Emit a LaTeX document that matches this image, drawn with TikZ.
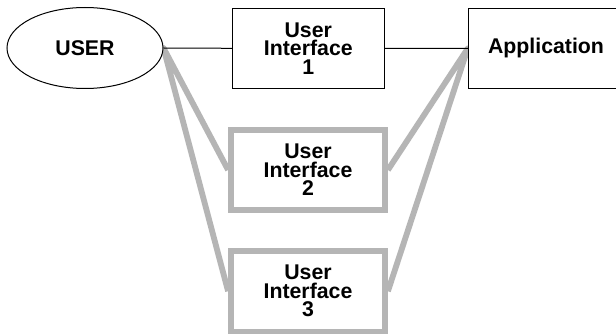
\documentclass[tikz,border=0pt]{standalone}
\usepackage{fontspec}
\setmainfont{Liberation Sans}
\usetikzlibrary{shapes.geometric, backgrounds}
\definecolor{altgray}{RGB}{181,181,181}
\tikzset{
  lbl/.style={font=\bfseries\fontsize{21.3}{18.5}\selectfont, align=center, text=black},
  mainbox/.style={lbl, draw=black, line width=1pt, fill=white, rectangle, inner sep=0pt,
                  minimum width=151.5pt, minimum height=80.5pt},
  altbox/.style={lbl, draw=altgray, line width=5.8pt, fill=white, rectangle, inner sep=0pt,
                 minimum width=154pt, minimum height=80.5pt},
  userell/.style={lbl, ellipse, draw=black, line width=1pt, fill=white, inner sep=0pt,
                  minimum width=156pt, minimum height=81pt},
  thinlink/.style={draw=black, line width=1pt},
  altlink/.style={draw=altgray, line width=5.8pt, line join=round},
}
\begin{document}
\begin{tikzpicture}[x=1pt, y=1pt]
\useasboundingbox (0,0) rectangle (616,335);

% nodes
\node[userell] (user) at (85,287) {USER};
\node[mainbox] (ui1) at (308.3,286.7) {User\\Interface\\1};
\node[mainbox, minimum width=155.4pt] (app) at (546,286.6) {Application};
\node[altbox] (ui2) at (308,165) {User\\Interface\\2};
\node[altbox] (ui3) at (308,43.75) {User\\Interface\\3};

\begin{scope}[on background layer]
  \fill[white] (0,0) rectangle (616,335);
  % alternative connections (grey)
  \draw[altlink] (ui2.west) -- (user.east) -- (ui3.west);
  \draw[altlink] (ui2.east) -- (app.west) -- (ui3.east);
  % main path (black)
  \draw[thinlink] (user.east) -- (ui1.west);
  \draw[thinlink] (ui1.east) -- (app.west);
\end{scope}
\end{tikzpicture}
\end{document}
